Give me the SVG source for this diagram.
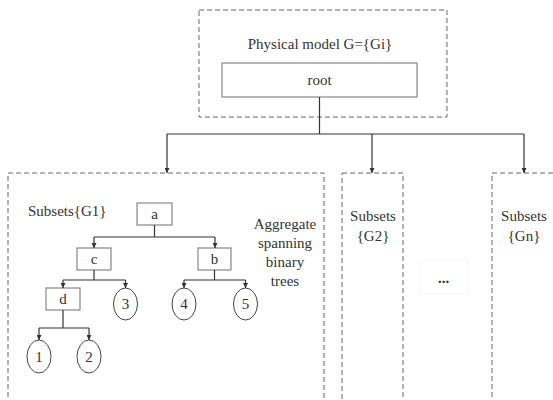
<svg xmlns="http://www.w3.org/2000/svg" width="553" height="400" viewBox="0 0 553 400" font-family="'Liberation Serif', 'Times New Roman', 'DejaVu Serif', serif">
  <style>
    text { font-family: "Liberation Serif", "Times New Roman", "DejaVu Serif", serif; font-size: 15px; fill: #333; }
    .mid { text-anchor: middle; }
    .group { fill: none; stroke: #666; stroke-width: 1; stroke-dasharray: 5 3; }
    .box { fill: #fff; stroke: #888; stroke-width: 1.2; }
    .leaf { fill: #fff; stroke: #444; stroke-width: 1; }
    .link { fill: none; stroke: #333; stroke-width: 1.2; }
    .arrow { fill: none; stroke: #333; stroke-width: 1.2; marker-end: url(#head); }
  </style>
  <defs>
    <marker id="head" viewBox="0 0 8 8" refX="8" refY="4" markerWidth="5" markerHeight="5" markerUnits="userSpaceOnUse" orient="auto">
      <path d="M0,0 L8,4 L0,8 z" fill="#333"/>
    </marker>
  </defs>

  <rect width="553" height="400" fill="#fff"/>

  <!-- physical model container -->
  <g id="physical-model">
    <rect class="group" x="199" y="10" width="248" height="107"/>
    <text class="mid" x="320" y="49">Physical model G={Gi}</text>
  </g>
  <g id="root">
    <rect class="box" x="222" y="63" width="195" height="34"/>
    <text class="mid" x="319.5" y="85">root</text>
  </g>

  <!-- subset containers -->
  <g id="subset-g1">
    <rect class="group" x="8" y="173" width="316" height="240"/>
    <text x="28" y="216">Subsets{G1}</text>
    <text class="mid" x="285" y="229">Aggregate</text>
    <text class="mid" x="285" y="248">spanning</text>
    <text class="mid" x="285" y="267">binary</text>
    <text class="mid" x="285" y="286">trees</text>
  </g>
  <g id="subset-g2">
    <rect class="group" x="342" y="173" width="61" height="240"/>
    <text class="mid" x="373" y="221">Subsets</text>
    <text class="mid" x="373" y="241">{G2}</text>
  </g>
  <g id="ellipsis">
    <rect x="419" y="260" width="49" height="34" fill="none" stroke="#f5f5f5" stroke-width="1"/>
    <text class="mid" x="443.5" y="283" font-weight="bold">...</text>
  </g>
  <g id="subset-gn">
    <rect class="group" x="492" y="173" width="80" height="240"/>
    <text class="mid" x="524" y="221">Subsets</text>
    <text class="mid" x="524" y="241">{Gn}</text>
  </g>

  <!-- binary tree nodes -->
  <g id="node-a">
    <rect class="box" x="137" y="203" width="35" height="22"/>
    <text class="mid" x="154.5" y="219">a</text>
  </g>
  <g id="node-c">
    <rect class="box" x="77" y="248" width="34" height="22"/>
    <text class="mid" x="94" y="264">c</text>
  </g>
  <g id="node-b">
    <rect class="box" x="198" y="248" width="33" height="22"/>
    <text class="mid" x="214.5" y="264">b</text>
  </g>
  <g id="node-d">
    <rect class="box" x="46" y="288" width="34" height="22"/>
    <text class="mid" x="63" y="304">d</text>
  </g>
  <g id="leaf-3">
    <ellipse class="leaf" cx="125.5" cy="304" rx="12" ry="16"/>
    <text class="mid" x="125.5" y="309">3</text>
  </g>
  <g id="leaf-4">
    <ellipse class="leaf" cx="184" cy="304" rx="12" ry="16"/>
    <text class="mid" x="184" y="309">4</text>
  </g>
  <g id="leaf-5">
    <ellipse class="leaf" cx="245.5" cy="304" rx="12" ry="16"/>
    <text class="mid" x="245.5" y="309">5</text>
  </g>
  <g id="leaf-1">
    <ellipse class="leaf" cx="39" cy="356.5" rx="12" ry="16.5"/>
    <text class="mid" x="39" y="361.5">1</text>
  </g>
  <g id="leaf-2">
    <ellipse class="leaf" cx="89" cy="356.5" rx="12" ry="16.5"/>
    <text class="mid" x="89" y="361.5">2</text>
  </g>

  <!-- connectors -->
  <g id="connectors">
    <!-- root to subsets -->
    <path class="link" d="M319.5,97 V134 M167,134 H524"/>
    <path class="arrow" d="M167,134 V173"/>
    <path class="arrow" d="M372,134 V173"/>
    <path class="arrow" d="M524,134 V173"/>
    <!-- a to c, b -->
    <path class="link" d="M154.5,225 V237 M94,237 H215"/>
    <path class="arrow" d="M94,237 V248"/>
    <path class="arrow" d="M215,237 V248"/>
    <!-- c to d, 3 -->
    <path class="link" d="M94,270 V280 M63,280 H125.5"/>
    <path class="arrow" d="M63,280 V288"/>
    <path class="arrow" d="M125.5,280 V288"/>
    <!-- b to 4, 5 -->
    <path class="link" d="M214.5,270 V280 M184,280 H245.5"/>
    <path class="arrow" d="M184,280 V288"/>
    <path class="arrow" d="M245.5,280 V288"/>
    <!-- d to 1, 2 -->
    <path class="link" d="M63,310 V328 M39,328 H89"/>
    <path class="arrow" d="M39,328 V340"/>
    <path class="arrow" d="M89,328 V340"/>
  </g>
</svg>
